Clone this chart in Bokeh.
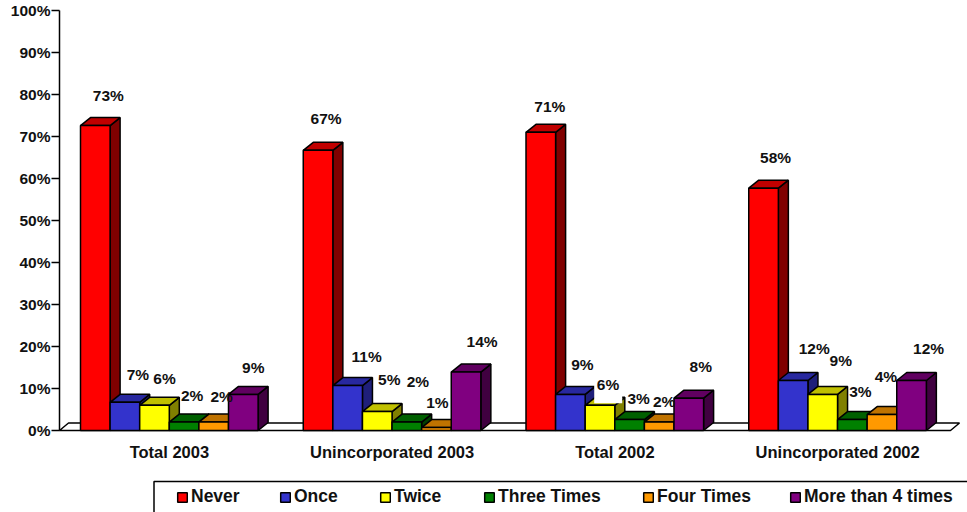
from bokeh.embed import file_html
from bokeh.resources import INLINE
from bokeh.plotting import figure
from bokeh.models import Range1d, FixedTicker, Legend, LegendItem, ColumnDataSource, PrintfTickFormatter, BoxAnnotation
from bokeh.core.properties import value

categories = ["Total 2003", "Unincorporated 2003", "Total 2002", "Unincorporated 2002"]
never = [72.6, 66.7, 71.0, 57.7]
once = [6.7, 10.7, 8.6, 11.9]
twice = [6.0, 4.5, 6.0, 8.6]
three_times = [2.0, 2.0, 2.6, 2.6]
four_times = [2.0, 0.7, 2.0, 3.8]
more_than_4 = [8.6, 13.9, 7.7, 11.9]
label_never = ["73%", "67%", "71%", "58%"]
label_once = ["7%", "11%", "9%", "12%"]
label_twice = ["6%", "5%", "6%", "9%"]
label_three = ["2%", "2%", "3%", "3%"]
label_four = ["2%", "1%", "2%", "4%"]
label_more = ["9%", "14%", "8%", "12%"]
y_ticks = [0, 10, 20, 30, 40, 50, 60, 70, 80, 90, 100]

series = [
    ("Never", never, label_never, "#FF0000", "#C00000", "#800000", [13, 8, 9, 12], [-30, -32, -26, -31]),
    ("Once", once, label_once, "#3333CC", "#28289F", "#1F1F7A", [13, 19, 12, 21], [-28, -29, -30, -32]),
    ("Twice", twice, label_twice, "#FFFF00", "#C0C000", "#808000", [10, 12, 8, 18], [-27, -32, -21, -34]),
    ("Three Times", three_times, label_three, "#008000", "#006000", "#004000", [8, 11, 9, 8], [-27, -41, -21, -28]),
    ("Four Times", four_times, label_four, "#FF9900", "#C07300", "#804D00", [8, 1, 5, 4], [-26, -25, -21, -38]),
    ("More than 4 times", more_than_4, label_more, "#800080", "#600060", "#400040", [10, 16, 12, 17], [-27, -31, -32, -32]),
]
legend_x = [176, 279, 379, 483, 642, 789]

PX_X = 222.75            # pixels per category
PX_Y = 4.2               # pixels per percent
BAR = 29.6 / PX_X        # bar width in category units
LEAD = 21 / PX_X         # gap before the first bar of a group
DX, DY = 10 / PX_X, 8 / PX_Y
FLOOR_DX, FLOOR_DY = 9 / PX_X, 7.5 / PX_Y

# The frame fills the canvas so that nothing drawn outside the plot area gets clipped.
p = figure(width=967, height=512, output_backend="svg", toolbar_location=None,
           x_range=Range1d(-59 / PX_X, 908 / PX_X), y_range=Range1d(-82 / PX_Y, 430 / PX_Y),
           min_border_left=0, min_border_right=0, min_border_top=0, min_border_bottom=0,
           outline_line_color=None, background_fill_color="white", border_fill_color="white",
           styles={"position": "absolute", "left": "0", "top": "0"})
p.grid.visible = False

n = len(categories)
p.patch([0, FLOOR_DX, n + FLOOR_DX, n], [0, FLOOR_DY, FLOOR_DY, 0],
        fill_color="white", line_color="black", line_width=1.5)

quads = []
for i, (name, vals, labels, front, top, side, ldx, ldy) in enumerate(series):
    lefts = [g + LEAD + i * BAR for g in range(n)]
    rights = [l + BAR for l in lefts]
    p.patches([[r, r + DX, r + DX, r] for r in rights],
              [[0, DY, v + DY, v] for v in vals],
              fill_color=side, line_color="black", line_width=1.5)
    p.patches([[l, l + DX, r + DX, r] for l, r in zip(lefts, rights)],
              [[v, v + DY, v + DY, v] for v in vals],
              fill_color=top, line_color="black", line_width=1.5)
    quads.append(p.quad(left=lefts, right=rights, bottom=0, top=vals,
                        fill_color=front, line_color="black", line_width=1.5))

# The white box behind the "6%" label of Total 2002 hides part of the yellow bar's top.
mask_left = 2 + LEAD + 2 * BAR + 9 / PX_X
p.quad(left=[mask_left], right=[mask_left + 28 / PX_X], bottom=[twice[2] + 0.5], top=[twice[2] + 8],
       fill_color="white", line_color=None)

for i, (name, vals, labels, front, top, side, ldx, ldy) in enumerate(series):
    src = ColumnDataSource(dict(
        x=[g + LEAD + (i + 0.5) * BAR for g in range(n)], y=vals, t=labels, dx=ldx, dy=ldy))
    p.text("x", "y", text="t", x_offset="dx", y_offset="dy", source=src,
           text_font=value("Liberation Sans"), text_font_style="bold", text_font_size="15.5px",
           text_color="#111111", text_align="center", text_baseline="middle")

ya = p.yaxis[0]
ya.fixed_location = 0
ya.ticker = FixedTicker(ticks=y_ticks)
ya.bounds = (0, 100)
ya.formatter = PrintfTickFormatter(format="%d%%")
ya.axis_line_color = "black"
ya.axis_line_width = 1.5
ya.major_tick_line_color = "black"
ya.major_tick_line_width = 1.5
ya.major_tick_out = 8
ya.major_tick_in = 0
ya.minor_tick_line_color = None
ya.major_label_standoff = 1
ya.major_label_text_font = "Liberation Sans"
ya.major_label_text_font_style = "bold"
ya.major_label_text_font_size = "15.5px"
ya.major_label_text_color = "#111111"

label_shift = -1.5 / PX_X
label_ticks = [g + 0.5 + label_shift for g in range(n)]
xa = p.xaxis[0]
xa.fixed_location = 0
xa.ticker = FixedTicker(ticks=label_ticks)
xa.major_label_overrides = dict(zip(label_ticks, categories))
xa.axis_line_color = None
xa.major_tick_line_color = None
xa.minor_tick_line_color = None
xa.major_label_standoff = 6
xa.major_label_text_font = "Liberation Sans"
xa.major_label_text_font_style = "bold"
xa.major_label_text_font_size = "16.5px"
xa.major_label_text_color = "#111111"

# Legend frame: open at the right and bottom edges of the picture, as in the reference.
p.add_layout(BoxAnnotation(left=(153.5 - 59) / PX_X, right=920 / PX_X,
                           top=-(481 - 430) / PX_Y, bottom=-95 / PX_Y,
                           fill_color="white", fill_alpha=1,
                           line_color="black", line_alpha=1, line_width=1.5))

for (name, *_), q, lx in zip(series, quads, legend_x):
    p.add_layout(Legend(items=[LegendItem(label=name, renderers=[q])],
                        orientation="horizontal", location=(lx, 5),
                        border_line_color=None, background_fill_alpha=0,
                        label_text_font="Liberation Sans", label_text_font_style="bold",
                        label_text_font_size="17.5px", label_text_color="#111111",
                        glyph_width=12, glyph_height=12, label_standoff=3,
                        spacing=0, padding=0, margin=0), "center")

open("out.html", "w").write(file_html(p, INLINE))
